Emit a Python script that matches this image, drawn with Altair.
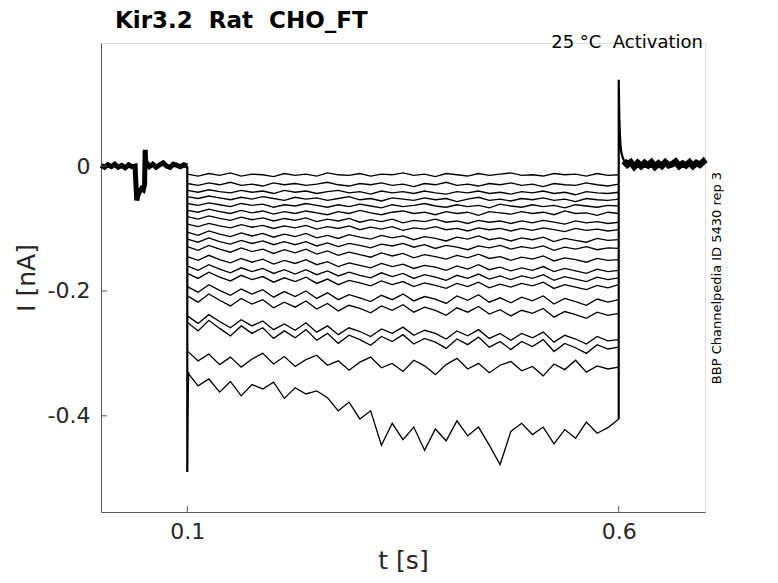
import altair as alt
import pandas as pd

# ---------------- data ----------------
x_ticks = [0.1, 0.6]
y_ticks = [-0.4, -0.2, 0.0]

t_step = [0.1, 0.1125, 0.125, 0.1375, 0.15, 0.1625, 0.175, 0.1875, 0.2, 0.2125,
          0.225, 0.2375, 0.25, 0.2625, 0.275, 0.2875, 0.3, 0.3125, 0.325, 0.3375,
          0.35, 0.3625, 0.375, 0.3875, 0.4, 0.4125, 0.425, 0.4375, 0.45, 0.4625,
          0.475, 0.4875, 0.5, 0.5125, 0.525, 0.5375, 0.55, 0.5625, 0.575, 0.5875, 0.6]

i01 = [-0.013, -0.016, -0.012, -0.015, -0.011, -0.016, -0.013, -0.014, -0.017, -0.012,
       -0.015, -0.013, -0.016, -0.011, -0.014, -0.015, -0.012, -0.016, -0.013, -0.014,
       -0.011, -0.015, -0.013, -0.017, -0.012, -0.014, -0.016, -0.012, -0.015, -0.013,
       -0.011, -0.015, -0.014, -0.016, -0.012, -0.014, -0.013, -0.016, -0.012, -0.015, -0.014]
i02 = [-0.028, -0.031, -0.027, -0.030, -0.026, -0.031, -0.029, -0.032, -0.027, -0.030,
       -0.028, -0.031, -0.029, -0.026, -0.030, -0.032, -0.028, -0.030, -0.027, -0.031,
       -0.029, -0.033, -0.028, -0.030, -0.026, -0.031, -0.029, -0.032, -0.028, -0.030,
       -0.027, -0.031, -0.029, -0.033, -0.028, -0.030, -0.031, -0.027, -0.030, -0.032, -0.029]
i03 = [-0.039, -0.042, -0.038, -0.041, -0.043, -0.039, -0.042, -0.040, -0.044, -0.039,
       -0.042, -0.040, -0.044, -0.041, -0.039, -0.043, -0.041, -0.045, -0.040, -0.043,
       -0.041, -0.044, -0.040, -0.043, -0.045, -0.041, -0.043, -0.040, -0.044, -0.042,
       -0.045, -0.041, -0.043, -0.040, -0.044, -0.042, -0.046, -0.041, -0.043, -0.044, -0.042]
i04 = [-0.049, -0.052, -0.048, -0.051, -0.054, -0.050, -0.053, -0.049, -0.052, -0.055,
       -0.050, -0.053, -0.051, -0.055, -0.052, -0.049, -0.054, -0.052, -0.056, -0.051,
       -0.053, -0.055, -0.051, -0.054, -0.052, -0.057, -0.053, -0.050, -0.055, -0.053,
       -0.056, -0.052, -0.054, -0.051, -0.055, -0.053, -0.057, -0.052, -0.054, -0.055, -0.053]
i05 = [-0.060, -0.063, -0.059, -0.062, -0.065, -0.060, -0.063, -0.061, -0.066, -0.062,
       -0.064, -0.060, -0.063, -0.066, -0.062, -0.065, -0.061, -0.064, -0.067, -0.062,
       -0.065, -0.063, -0.060, -0.064, -0.066, -0.062, -0.065, -0.063, -0.067, -0.061,
       -0.064, -0.066, -0.062, -0.065, -0.063, -0.067, -0.062, -0.064, -0.066, -0.063, -0.064]
i06 = [-0.071, -0.074, -0.069, -0.073, -0.076, -0.071, -0.075, -0.072, -0.077, -0.073,
       -0.076, -0.072, -0.075, -0.078, -0.073, -0.076, -0.071, -0.075, -0.078, -0.074,
       -0.072, -0.076, -0.074, -0.078, -0.073, -0.076, -0.074, -0.079, -0.073, -0.075,
       -0.077, -0.073, -0.076, -0.074, -0.078, -0.072, -0.076, -0.075, -0.079, -0.074, -0.076]
i07 = [-0.081, -0.085, -0.080, -0.084, -0.087, -0.082, -0.086, -0.083, -0.088, -0.084,
       -0.087, -0.083, -0.089, -0.085, -0.088, -0.084, -0.090, -0.086, -0.089, -0.085,
       -0.091, -0.087, -0.089, -0.085, -0.090, -0.088, -0.092, -0.087, -0.090, -0.088,
       -0.092, -0.088, -0.091, -0.087, -0.090, -0.093, -0.088, -0.091, -0.089, -0.092, -0.090]
i08 = [-0.093, -0.097, -0.092, -0.096, -0.099, -0.094, -0.098, -0.095, -0.100, -0.096,
       -0.099, -0.095, -0.101, -0.097, -0.100, -0.096, -0.102, -0.098, -0.101, -0.097,
       -0.103, -0.099, -0.101, -0.097, -0.102, -0.100, -0.104, -0.099, -0.102, -0.100,
       -0.104, -0.100, -0.103, -0.099, -0.102, -0.105, -0.100, -0.103, -0.101, -0.104, -0.102]
i09 = [-0.106, -0.111, -0.104, -0.109, -0.113, -0.107, -0.112, -0.108, -0.114, -0.109,
       -0.113, -0.108, -0.115, -0.111, -0.116, -0.110, -0.114, -0.117, -0.111, -0.115,
       -0.112, -0.118, -0.113, -0.116, -0.120, -0.114, -0.117, -0.112, -0.118, -0.115,
       -0.120, -0.115, -0.118, -0.114, -0.121, -0.116, -0.119, -0.122, -0.116, -0.119, -0.118]
i10 = [-0.117, -0.122, -0.115, -0.121, -0.125, -0.119, -0.124, -0.120, -0.126, -0.121,
       -0.126, -0.121, -0.128, -0.123, -0.129, -0.124, -0.127, -0.131, -0.125, -0.128,
       -0.124, -0.130, -0.126, -0.132, -0.127, -0.130, -0.134, -0.128, -0.131, -0.127,
       -0.133, -0.129, -0.132, -0.128, -0.135, -0.130, -0.133, -0.129, -0.134, -0.131, -0.132]
i11 = [-0.129, -0.135, -0.127, -0.133, -0.138, -0.131, -0.137, -0.133, -0.140, -0.134,
       -0.139, -0.133, -0.141, -0.136, -0.143, -0.138, -0.142, -0.146, -0.139, -0.144,
       -0.140, -0.147, -0.142, -0.145, -0.149, -0.143, -0.147, -0.141, -0.148, -0.145,
       -0.151, -0.146, -0.149, -0.144, -0.152, -0.147, -0.150, -0.154, -0.148, -0.151, -0.150]
i12 = [-0.145, -0.151, -0.143, -0.150, -0.155, -0.148, -0.154, -0.149, -0.157, -0.151,
       -0.156, -0.150, -0.158, -0.153, -0.161, -0.155, -0.159, -0.163, -0.156, -0.161,
       -0.157, -0.164, -0.159, -0.162, -0.167, -0.160, -0.165, -0.158, -0.166, -0.162,
       -0.168, -0.163, -0.167, -0.161, -0.169, -0.164, -0.168, -0.172, -0.165, -0.169, -0.167]
i13 = [-0.160, -0.167, -0.158, -0.165, -0.171, -0.163, -0.169, -0.164, -0.172, -0.166,
       -0.173, -0.166, -0.174, -0.168, -0.176, -0.170, -0.175, -0.179, -0.171, -0.177,
       -0.172, -0.180, -0.174, -0.178, -0.183, -0.175, -0.180, -0.173, -0.181, -0.176,
       -0.182, -0.176, -0.180, -0.174, -0.183, -0.177, -0.181, -0.185, -0.178, -0.182, -0.179]
i14 = [-0.172, -0.180, -0.170, -0.178, -0.184, -0.175, -0.182, -0.177, -0.186, -0.179,
       -0.185, -0.178, -0.188, -0.181, -0.190, -0.183, -0.187, -0.192, -0.184, -0.190,
       -0.185, -0.193, -0.187, -0.191, -0.196, -0.188, -0.193, -0.186, -0.195, -0.189,
       -0.194, -0.188, -0.192, -0.186, -0.196, -0.190, -0.194, -0.198, -0.191, -0.195, -0.190]
i15 = [-0.193, -0.202, -0.190, -0.199, -0.207, -0.197, -0.205, -0.198, -0.210, -0.201,
       -0.209, -0.200, -0.212, -0.203, -0.214, -0.206, -0.211, -0.217, -0.207, -0.214,
       -0.205, -0.216, -0.209, -0.213, -0.220, -0.208, -0.215, -0.206, -0.218, -0.211,
       -0.219, -0.210, -0.216, -0.208, -0.221, -0.212, -0.217, -0.223, -0.213, -0.218, -0.214]
i16 = [-0.208, -0.218, -0.205, -0.215, -0.224, -0.212, -0.221, -0.214, -0.227, -0.218,
       -0.226, -0.216, -0.229, -0.220, -0.232, -0.223, -0.228, -0.235, -0.224, -0.231,
       -0.222, -0.234, -0.226, -0.231, -0.239, -0.227, -0.234, -0.225, -0.237, -0.230,
       -0.240, -0.231, -0.236, -0.228, -0.242, -0.233, -0.238, -0.244, -0.234, -0.239, -0.236]
i17 = [-0.240, -0.252, -0.238, -0.249, -0.259, -0.246, -0.256, -0.248, -0.262, -0.253,
       -0.263, -0.251, -0.266, -0.256, -0.270, -0.259, -0.265, -0.273, -0.261, -0.268,
       -0.258, -0.271, -0.263, -0.268, -0.277, -0.264, -0.272, -0.262, -0.276, -0.268,
       -0.279, -0.268, -0.275, -0.266, -0.282, -0.271, -0.277, -0.285, -0.273, -0.280, -0.278]
i18 = [-0.250, -0.264, -0.247, -0.260, -0.272, -0.256, -0.268, -0.259, -0.276, -0.264,
       -0.275, -0.262, -0.279, -0.268, -0.284, -0.271, -0.278, -0.287, -0.273, -0.281,
       -0.270, -0.285, -0.276, -0.282, -0.292, -0.277, -0.286, -0.274, -0.290, -0.281,
       -0.294, -0.281, -0.289, -0.278, -0.297, -0.284, -0.291, -0.300, -0.286, -0.293, -0.290]
i19 = [-0.296, -0.312, -0.301, -0.318, -0.306, -0.322, -0.309, -0.300, -0.317, -0.305,
       -0.321, -0.310, -0.303, -0.319, -0.312, -0.327, -0.314, -0.306, -0.323, -0.316,
       -0.329, -0.311, -0.320, -0.334, -0.318, -0.308, -0.325, -0.316, -0.331, -0.319,
       -0.313, -0.328, -0.321, -0.336, -0.317, -0.326, -0.311, -0.330, -0.320, -0.325, -0.322]
i20 = [-0.330, -0.352, -0.341, -0.362, -0.345, -0.368, -0.350, -0.357, -0.346, -0.372,
       -0.355, -0.365, -0.360, -0.371, -0.392, -0.378, -0.405, -0.392, -0.447, -0.412,
       -0.438, -0.418, -0.455, -0.421, -0.440, -0.408, -0.432, -0.418, -0.447, -0.478,
       -0.425, -0.412, -0.430, -0.418, -0.445, -0.422, -0.436, -0.410, -0.428, -0.419, -0.405]

# holding period before the step (all sweeps overlap here)
t_pre = [0.0, 0.004, 0.008, 0.012, 0.016, 0.02, 0.024, 0.028, 0.032, 0.036,
         0.0395, 0.0405, 0.0415, 0.043, 0.045, 0.047, 0.049, 0.0505, 0.0512, 0.052,
         0.0535, 0.056, 0.06, 0.064, 0.068, 0.072, 0.076, 0.08, 0.084, 0.088,
         0.092, 0.096, 0.1]
i_pre = [0.001, -0.002, 0.002, -0.001, 0.003, -0.002, 0.001, -0.003, 0.002, -0.001,
         0.0, -0.030, -0.055, -0.046, -0.040, -0.036, -0.038, -0.030, 0.026, -0.002,
         0.004, -0.001, 0.003, -0.002, 0.002, 0.005, 0.0, -0.002, 0.003, 0.001,
         -0.001, 0.002, 0.0]

# capacitive transient at step onset
t_on = [0.1, 0.1, 0.1006, 0.1012]
i_on = [0.0, -0.49, -0.36, -0.33]

# tail transient at step offset
t_off = [0.6, 0.6, 0.6006, 0.6012, 0.602, 0.603, 0.6045, 0.606, 0.608]
i_off = [-0.405, 0.138, 0.085, 0.055, 0.035, 0.022, 0.014, 0.009, 0.006]

# holding period after the step
t_post = [0.606, 0.61, 0.614, 0.618, 0.622, 0.626, 0.63, 0.634, 0.638, 0.642,
          0.646, 0.65, 0.654, 0.658, 0.662, 0.666, 0.67, 0.674, 0.678, 0.682,
          0.686, 0.69, 0.694, 0.698, 0.7]
i_post = [0.008, 0.002, 0.006, -0.001, 0.005, 0.000, 0.005, 0.001, 0.006, -0.001,
          0.004, 0.000, 0.006, 0.001, 0.003, 0.007, 0.000, 0.004, 0.001, 0.006,
          0.000, 0.005, 0.002, 0.007, 0.003]

title_text = "Kir3.2 \u00a0Rat \u00a0CHO_FT"
note_text = "25 \u00b0C \u00a0Activation"
side_text = "BBP Channelpedia ID 5430 rep 3"

# ---------------- tables ----------------
sweeps = [i01, i02, i03, i04, i05, i06, i07, i08, i09, i10,
          i11, i12, i13, i14, i15, i16, i17, i18, i19, i20]


def table(series):
    rows = []
    for name, ts, vs in series:
        for k, (t, v) in enumerate(zip(ts, vs)):
            rows.append({"t": t, "I": v, "trace": name, "k": k})
    return pd.DataFrame(rows)


thin_df = table([(f"s{n:02d}", t_step, v) for n, v in enumerate(sweeps)])
mid_df = table([("on", t_on, i_on), ("off", t_off, i_off)])
pre_df = table([("pre", t_pre, i_pre)])
post_df = table([("post", t_post, i_post)])

# ---------------- chart ----------------
FONT = "DejaVu Sans"
AX = "#5a5a5a"
LAB = "#262626"
W, H = 604, 469

xscale = alt.Scale(domain=[0, 0.7], nice=False, zero=False)
yscale = alt.Scale(domain=[-0.554, 0.197], nice=False, zero=False)
xaxis = alt.Axis(values=x_ticks, format=".1f", title="t [s]", ticks=False,
                 labelPadding=9, titlePadding=6, labelFontSize=22,
                 titleFontSize=25, titleFontWeight="normal", labelColor=LAB,
                 titleColor=LAB, domainColor=AX, labelFont=FONT, titleFont=FONT,
                 grid=False)
yaxis = alt.Axis(values=y_ticks, title="I [nA]", ticks=False, labelPadding=11,
                 titlePadding=8, labelFontSize=22, titleFontSize=25,
                 titleFontWeight="normal", labelColor=LAB, titleColor=LAB,
                 domainColor=AX, labelFont=FONT, titleFont=FONT, grid=False,
                 labelExpr="datum.value == 0 ? '0\u2007\u2008' : '-' + format(abs(datum.value), '.1f')")

X = alt.X("t:Q", scale=xscale, axis=xaxis)
Y = alt.Y("I:Q", scale=yscale, axis=yaxis)


def lines(df, width):
    return alt.Chart(df).mark_line(color="black", strokeWidth=width).encode(
        x=X, y=Y, detail="trace:N", order="k:Q")


pre = lines(pre_df, 5)
post = lines(post_df, 6.5)
thin = lines(thin_df, 1.3)
mid = lines(mid_df, 2.2)

xt = alt.Chart(pd.DataFrame({"t": x_ticks})).mark_rule(color=AX, strokeWidth=1).encode(
    x=X, y=alt.value(H), y2=alt.value(H - 6))
yt = alt.Chart(pd.DataFrame({"I": y_ticks})).mark_rule(color=AX, strokeWidth=1).encode(
    y=Y, x=alt.value(0), x2=alt.value(6))

title = alt.Chart(pd.DataFrame({"s": [title_text]})).mark_text(
    align="left", baseline="alphabetic", fontSize=23, fontWeight="bold",
    font=FONT, color="black"
).encode(text="s:N", x=alt.value(14), y=alt.value(-15))

note = alt.Chart(pd.DataFrame({"s": [note_text]})).mark_text(
    align="right", baseline="alphabetic", fontSize=18, font=FONT, color="black"
).encode(text="s:N", x=alt.value(602), y=alt.value(5))

side = alt.Chart(pd.DataFrame({"s": [side_text]})).mark_text(
    align="center", baseline="middle", angle=270, fontSize=13, font=FONT, color="black"
).encode(text="s:N", x=alt.value(616), y=alt.value(235))

chart = alt.layer(pre, post, thin, mid, xt, yt, title, note, side).properties(
    width=W, height=H,
    autosize=alt.AutoSizeParams(type="none"),
    padding={"left": 93, "top": 35, "right": 58, "bottom": 63},
).configure_view(stroke=None).configure(background="white")

chart.save("out.html", embed_options={"renderer": "svg", "actions": False})
